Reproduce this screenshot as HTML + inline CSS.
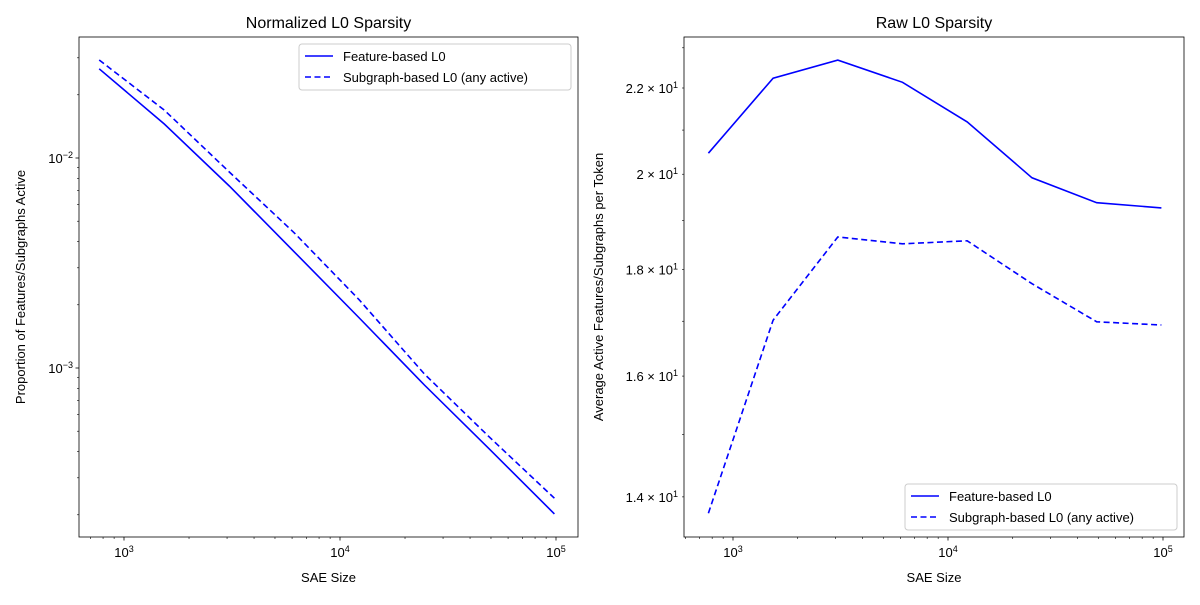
<!DOCTYPE html>
<html><head><meta charset="utf-8"><style>body{margin:0;background:#fff}svg{font-family:"Liberation Sans","DejaVu Sans",sans-serif}</style></head>
<body>
<svg id="c" width="1200" height="600" xmlns="http://www.w3.org/2000/svg"></svg>
<script>
const sizes=[768,1536,3072,6144,12288,24576,49152,98304];
const normFeature=[0.0266,0.01452,0.00736,0.00357,0.00173,0.00083,0.000411,0.000202];
const normSubgraph=[0.0293,0.0169,0.00858,0.0044,0.00211,0.000936,0.000469,0.00024];
const rawFeature=[20.47,22.24,22.69,22.14,21.19,19.92,19.38,19.27];
const rawSubgraph=[13.75,17.02,18.66,18.52,18.58,17.72,16.99,16.93];
const rawTickVals=[14,16,18,20,22];
const rawTickLabels=["1.4","1.6","1.8","2","2.2"];
const xMajor=[3,4,5];

const NS="http://www.w3.org/2000/svg";
const svg=document.getElementById('c');
function el(t,a,p){const e=document.createElementNS(NS,t);for(const k in a)e.setAttribute(k,a[k]);(p||svg).appendChild(e);return e;}
const L=Math.log10;

function panel(cfg){
  const g=el('g',{});
  
  
  const {x0,x1,y0,y1}=cfg;
  const xs=v=>cfg.xa+(L(v)-3)*cfg.xd;
  const ys=cfg.ys;
  // x ticks
  for(let d=2;d<=5;d++){for(let m=1;m<10;m++){const v=m*Math.pow(10,d);const x=xs(v);if(x<x0||x>x1)continue;
    el('line',{x1:x,x2:x,y1:y1,y2:y1+(m==1?3.5:2),stroke:'#000','stroke-width':m==1?0.8:0.6},g);}}
  xMajor.forEach(p=>{const x=xs(Math.pow(10,p));const t=el('text',{x:x,y:y1+20,'font-size':13,'text-anchor':'middle'},g);
    
    t.appendChild(document.createTextNode('10'));const s=el('tspan',{dy:-5,'font-size':9},t);s.textContent=p;});
  cfg.yticks(g);
  // lines
  const sets=[[cfg.a,null,'solid-line-feature'],[cfg.b,'6,3.5','dashed-line-subgraph']];
  sets.forEach(([arr,dash,nm])=>{
    const pts=sizes.map((s,i)=>xs(s).toFixed(1)+','+ys(arr[i]).toFixed(1)).join(' ');
    const pl=el('polyline',{points:pts,fill:'none',stroke:'#0000ff','stroke-width':1.6},g);
    if(dash)pl.setAttribute('stroke-dasharray',dash);
    
  });
  el('rect',{x:x0,y:y0,width:x1-x0,height:y1-y0,fill:'none',stroke:'#000','stroke-width':0.8},g);
  const tt=el('text',{x:(x0+x1)/2,y:y0-9,'font-size':16,'text-anchor':'middle'},g);tt.textContent=cfg.title;
  
  const xl=el('text',{x:(x0+x1)/2,y:582,'font-size':13,'text-anchor':'middle'},g);xl.textContent='SAE Size';
  
  const yl=el('text',{x:0,y:0,'font-size':13,'text-anchor':'middle',transform:`translate(${cfg.ylx},${(y0+y1)/2}) rotate(-90)`},g);yl.textContent=cfg.ylabel;
  
  // legend
  const lg=el('g',{},g);
  const [lx,ly]=cfg.leg;
  el('rect',{x:lx,y:ly,width:272,height:46,rx:3,fill:'#fff',stroke:'#ccc','stroke-width':1},lg);
  [['Feature-based L0',null],['Subgraph-based L0 (any active)','6,3.5']].forEach(([t,d],i)=>{
    const yy=ly+12+i*21;
    const ln=el('line',{x1:lx+6,x2:lx+34,y1:yy,y2:yy,stroke:'#0000ff','stroke-width':1.6},lg);if(d)ln.setAttribute('stroke-dasharray',d);
    const tx=el('text',{x:lx+44,y:yy+5,'font-size':13},lg);tx.textContent=t;
    
  });
}
// left
const lys=v=>158+(-2-L(v))*210;
panel({name:'left-panel',x0:79,x1:578,y0:37,y1:537,xa:124,xd:216,ys:lys,a:normFeature,b:normSubgraph,
 title:'Normalized L0 Sparsity',ylabel:'Proportion of Features/Subgraphs Active',ylx:25,leg:[299,44],
 yticks:g=>{for(let d=-4;d<=-2;d++)for(let m=1;m<10;m++){const y=lys(m*Math.pow(10,d));if(y<37||y>537)continue;
   el('line',{x1:79,x2:79-(m==1?3.5:2),y1:y,y2:y,stroke:'#000','stroke-width':m==1?0.8:0.6},g);
   if(m==1){const t=el('text',{x:73,y:y+5,'font-size':13,'text-anchor':'end'},g);
     t.appendChild(document.createTextNode('10'));const s=el('tspan',{dy:-5,'font-size':9},t);s.textContent='−'+(-d);}}}});
// right
const rys=v=>88+(L(22)-L(v))*2083;
panel({name:'right-panel',x0:684,x1:1184,y0:37,y1:537,xa:733,xd:215,ys:rys,a:rawFeature,b:rawSubgraph,
 title:'Raw L0 Sparsity',ylabel:'Average Active Features/Subgraphs per Token',ylx:603,leg:[905,484],
 yticks:g=>{for(let v=14;v<=23;v++){const y=rys(v);if(y<37||y>537)continue;el('line',{x1:684,x2:682,y1:y,y2:y,stroke:'#000','stroke-width':0.6},g);}
   rawTickVals.forEach((v,i)=>{const y=rys(v);const t=el('text',{x:678,y:y+5,'font-size':13,'text-anchor':'end'},g);
     
     t.appendChild(document.createTextNode(rawTickLabels[i]+' × 10'));const s=el('tspan',{dy:-5,'font-size':9},t);s.textContent='1';});}});
</script>
</body></html>
